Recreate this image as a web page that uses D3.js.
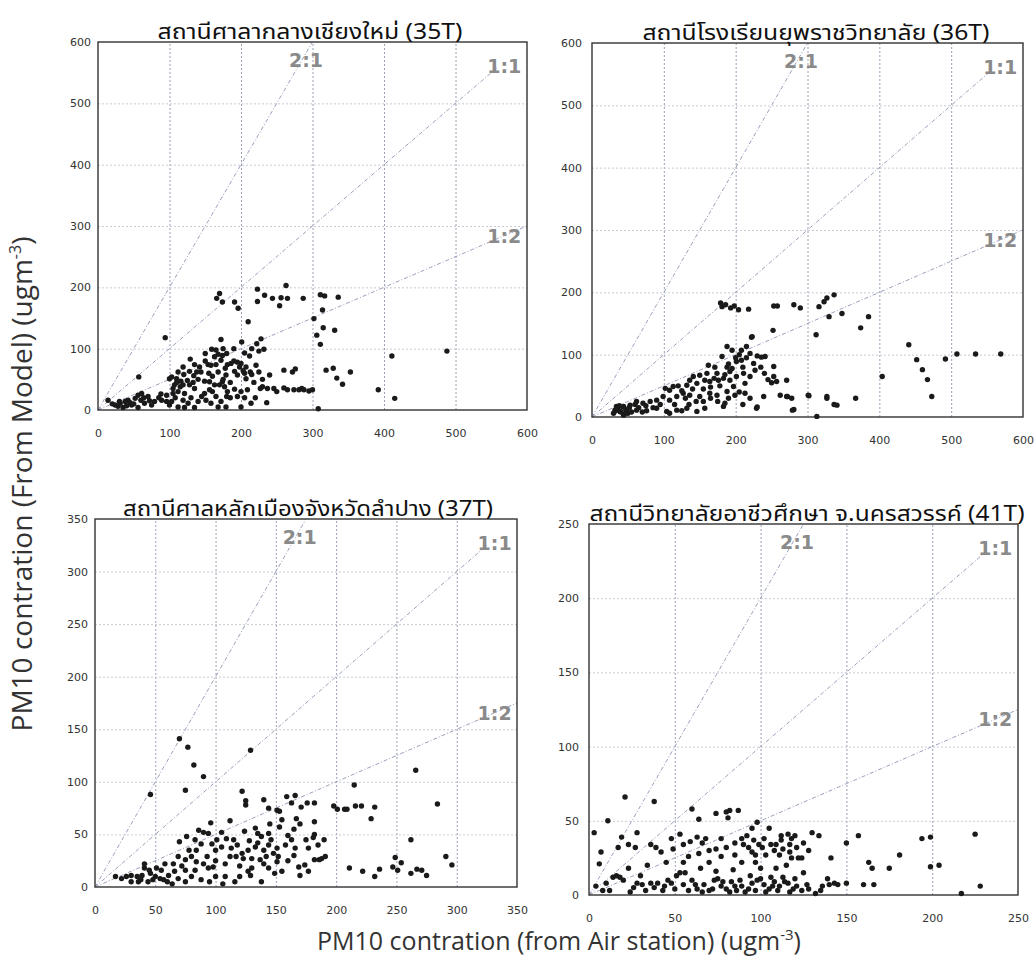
<!DOCTYPE html>
<html><head><meta charset="utf-8">
<script src="https://cdn.jsdelivr.net/npm/d3@7"></script>
<style>body{margin:0;background:#fff}</style>
</head><body>
<svg id="chart" width="1036" height="973"></svg>
<script>
// ---------- DATA ----------
const stationTitles = [
  "สถานีศาลากลางเชียงใหม่ (35T)",
  "สถานีโรงเรียนยุพราชวิทยาลัย (36T)",
  "สถานีศาลหลักเมืองจังหวัดลำปาง (37T)",
  "สถานีวิทยาลัยอาชีวศึกษา จ.นครสวรรค์ (41T)"
];
const axisMax = [600, 600, 350, 250];
const tickStep = [100, 100, 50, 50];
const ratioLabels = ["2:1", "1:1", "1:2"];
const ratioSlopes = [2, 1, 0.5];
const xAxisTitle = "PM10 contration (from Air station) (ugm";
const yAxisTitle = "PM10 contration (From Model) (ugm";

// [air station, model]
const st35T = [
  [14,16],[57,54],[94,118],
  [166,182],[170,190],[174,176],[191,176],[196,166],[223,197],[223,177],[233,187],[244,182],[254,170],[256,183],[263,203],[265,182],[287,182],[311,188],[317,186],[336,184],[314,163],[302,149],[315,134],[331,130],[306,122],[311,107],[210,144],[172,115],[201,111],[228,116],[225,96],[232,99],
  [319,65],[329,68],[353,62],[334,52],[342,42],[411,88],[488,96],[392,33],[415,19],[308,2],
  [159,99],[174,89],[163,87],[168,91],[172,81],[158,73],[165,74],[154,74],[181,74],[178,68],[186,76],[129,83],[135,74],[119,70],[103,54],[100,51],[110,51],[116,47],[119,41],[107,41],[134,56],[144,62],[140,50],[133,45],[128,41],[149,47],[156,46],[163,41],[170,41],[174,46],[179,57],[191,63],[195,78],[200,76],[207,70],[212,88],[213,62],[205,60],[195,57],[207,51],[221,73],[240,57],[260,65],[272,62],[276,67],[227,35],[209,33],[200,30],[191,34],[181,30],[177,38],[237,35],[246,35],[260,36],[274,33],[281,33],[288,33],[295,31],[149,27],[156,33],[135,35],[121,27],[112,30],[105,27],[96,24],[89,16],[96,14],[79,14],[70,22],[61,27],[56,24],[52,19],[42,16],[38,14],[31,11],[24,8],[47,8],[65,11],[103,14],[119,16],[126,11],[140,14],[151,16],[158,11],[168,5],[172,14],[179,5],[200,5],[214,11],[236,12],[112,5],[121,4],[135,4],[56,4],[35,4],
  [20,10],[28,6],[45,12],[60,16],[75,8],[85,20],[100,8],[108,20],[130,20],[145,22],[185,20],[220,20],
  [105,35],[110,45],[115,38],[125,48],[138,62],[142,70],[150,80],[155,60],[160,55],[168,62],[175,50],[185,45],[190,80],[198,70],[203,64],[215,58],[218,45],[225,62],[230,50],[160,30],[165,22],[180,22],[195,22],[205,20],[230,38],[250,30],[265,33],[285,35],[300,33],[120,58],[128,63],[112,62],[150,92],[165,98],[175,100],[180,92],[190,100],[205,93],[215,100],[222,108],[88,26],[72,15],[64,20],[50,10],[40,7],[30,14]
];
const st36T = [
  [179,183],[181,177],[186,180],[193,175],[198,178],[204,172],[218,173],[253,178],[258,178],[281,180],[290,175],[316,177],[323,185],[327,191],[337,196],[330,161],[348,166],[385,161],[374,143],[312,132],[223,129],[441,116],[452,92],[460,76],[467,60],[473,33],[492,93],[508,101],[534,101],[569,101],[404,65],[367,30],[337,20],[327,30],[302,34],[313,1],[281,12],[272,33],[230,16],
  [222,128],[252,139],[188,113],[195,107],[208,107],[215,113],[181,97],[201,89],[208,91],[225,86],[236,96],[241,97],[162,83],[171,80],[188,80],[192,73],[174,70],[160,70],[150,67],[141,65],[136,59],[132,51],[120,50],[113,49],[108,43],[102,46],[146,54],[157,59],[164,57],[176,59],[183,62],[192,59],[201,65],[211,70],[220,65],[227,75],[213,54],[197,49],[188,41],[174,35],[164,38],[150,33],[136,35],[127,38],[118,33],[108,27],[99,33],[90,27],[81,25],[71,22],[62,25],[53,19],[44,17],[34,17],[32,11],[39,9],[48,9],[62,11],[76,10],[90,14],[104,9],[118,11],[132,14],[146,9],[157,14],[183,17],[185,22],[213,38],[220,30],[239,33],[253,81],[253,65],[257,57],[271,59],[262,35],[271,33],[278,30],[229,14],[279,11],[301,35],[327,33],[341,19],[199,35],[108,6],[44,3],
  [33,10],[36,14],[40,8],[43,16],[47,12],[50,6],[38,18],[45,5],[52,15],[30,6],
  [155,45],[165,48],[170,62],[178,50],[185,68],[190,85],[195,78],[200,95],[205,100],[210,80],[215,95],[220,102],[230,98],[235,80],[240,70],[245,60],[250,55],[125,42],[130,30],[140,45],[145,25],[155,25],[165,30],[175,25],[190,30],[205,40],[210,20],[95,20],[85,15],[75,18],[65,15],[60,20],[70,8],[55,8],[115,20],[125,10],[135,20]
];
const st37T = [
  [46,88],[70,141],[77,133],[82,116],[90,105],[75,92],[129,130],[122,91],[125,82],[125,78],[215,97],[266,111],[284,79],[262,45],[291,29],[296,21],
  [198,77],[201,74],[207,74],[209,74],[216,77],[221,77],[232,76],[229,65],[249,28],[254,23],[247,19],[251,16],[262,13],[267,17],[271,16],[275,11],[211,18],[222,15],[232,10],[236,17],
  [140,83],[144,75],[151,73],[153,72],[159,86],[166,87],[163,80],[171,76],[176,80],[182,80],[167,65],[182,62],[182,50],[181,47],[112,63],[96,61],[86,54],[90,52],[94,51],[76,48],[70,43],[83,45],[88,41],[97,41],[101,45],[109,46],[115,45],[124,53],[133,56],[135,51],[138,48],[144,51],[146,45],[153,57],[160,49],[163,45],[166,37],[177,37],[188,27],[182,26],[169,19],[174,21],[177,15],[170,11],[144,40],[140,35],[133,38],[127,35],[122,32],[117,29],[123,27],[130,27],[137,26],[142,29],[148,32],[152,29],[151,37],[113,37],[112,29],[105,38],[100,35],[93,29],[84,35],[80,29],[75,26],[69,29],[84,24],[94,18],[98,19],[83,16],[75,16],[66,15],[65,22],[61,11],[55,16],[54,8],[51,18],[41,22],[41,18],[46,13],[39,11],[35,10],[30,11],[26,10],[17,10],[48,7],[57,7],[69,8],[88,7],[95,5],[108,10],[106,3],[116,5],[127,15],[129,11],[138,5],[144,18],[149,13],[151,24],[36,5],[44,5],[64,3],[191,29],[186,26],
  [105,52],[118,40],[128,44],[135,42],[145,60],[155,64],[158,40],[165,55],[170,60],[175,45],[185,40],[190,45],[108,22],[120,20],[130,18],[140,22],[155,15],[160,25],[165,30],[100,25],[90,22],[78,35],[72,20],[58,22],[50,10],[45,16],[38,7],[30,5],[22,8],[60,5],[75,5],[80,10],[120,10],[100,10]
];
const st41T = [
  [21,66],[80,56],
  [3,42],[7,29],[6,21],[11,50],[19,39],[17,32],[23,34],[27,32],[28,42],[23,18],[36,34],[39,32],[42,29],[38,63],[48,38],[49,31],[53,41],[55,34],[59,36],[60,58],[63,39],[64,51],[64,28],[68,38],[70,30],[74,55],[74,31],[77,38],[81,52],[82,57],[87,57],[89,38],[90,34],[95,45],[95,29],[97,27],[98,49],[99,34],[93,32],[85,27],[89,22],[97,22],[101,32],[105,45],[106,34],[109,34],[109,18],[112,37],[113,31],[111,27],[116,41],[117,34],[117,29],[118,25],[120,40],[121,32],[122,25],[124,25],[130,42],[134,40],[141,25],[150,35],[157,40],[163,22],[165,18],[175,18],[181,27],[194,38],[199,39],[199,19],[204,20],[225,41],[228,6],[217,1],
  [4,6],[8,3],[12,3],[14,12],[16,13],[18,12],[20,10],[24,2],[28,8],[31,7],[36,8],[40,8],[43,3],[46,10],[48,8],[51,13],[53,15],[56,15],[55,7],[60,10],[63,4],[67,7],[70,3],[73,10],[74,16],[75,11],[78,9],[80,4],[83,9],[86,3],[89,6],[91,2],[94,13],[95,8],[98,10],[100,11],[102,7],[105,4],[106,12],[108,9],[111,6],[114,9],[116,8],[117,2],[120,11],[121,6],[127,7],[132,1],[136,6],[139,11],[140,7],[143,8],[145,7],[150,8],[160,7],[166,7],
  [10,8],[26,5],[33,3],[38,5],[44,6],[50,4],[58,3],[62,7],[66,2],[72,4],[77,6],[82,2],[85,6],[88,10],[93,4],[97,3],[103,2],[107,6],[110,3],[113,12],[119,4],[124,3],[128,4],[135,3],[30,13],[34,20],[55,22],[65,18],[70,22],[84,17],[100,18],[115,20],[125,15],[58,26],[45,22],[77,26],[103,27],[108,30],[112,40],[85,35],[80,32],[66,35],[92,40],[96,37],[102,38],[118,38],[125,35],[128,30]
];
const stationData = [st35T, st36T, st37T, st41T];

// ---------- LAYOUT ----------
const plotBoxes = [ // left, right, top, bottom (px)
  [98, 527, 42, 410],
  [592, 1023, 43, 417],
  [95, 517, 519, 887],
  [589, 1018, 524, 895]
];
const titleCenters = [310, 816, 308, 807];
const titleWidths = [305, 347, 370, 435];
const labelPos = [[0.485, 0.068], [0.947, 0.084], [0.947, 0.545]];
const lineEnd = [1, 0.93, 1];

const svg = d3.select("#chart");
const thaiFont = "Tahoma, 'Noto Sans Thai', 'Noto Sans Thai UI', Garuda, Loma, 'Noto Sans', sans-serif";
const tickFont = "'DejaVu Sans', Verdana, sans-serif";

stationData.forEach((pts, i) => {
  const [L, R, T, B] = plotBoxes[i];
  const max = axisMax[i], step = tickStep[i];
  const x = d3.scaleLinear().domain([0, max]).range([L, R]);
  const y = d3.scaleLinear().domain([0, max]).range([B, T]);
  const ticks = d3.range(0, max + step / 2, step);
  const inner = ticks.filter(t => t > 0 && t < max);
  const g = svg.append("g");

  // gridlines
  g.append("g").attr("transform", `translate(0,${B})`)
    .call(d3.axisBottom(x).tickValues(inner).tickSize(-(B - T)).tickFormat(""))
    .call(s => s.select(".domain").remove())
    .selectAll("line").attr("stroke", "#9a9fb4").attr("stroke-dasharray", "2,2").attr("stroke-width", 1);
  g.append("g").attr("transform", `translate(${L},0)`)
    .call(d3.axisLeft(y).tickValues(inner).tickSize(-(R - L)).tickFormat(""))
    .call(s => s.select(".domain").remove())
    .selectAll("line").attr("stroke", "#c8cbd6").attr("stroke-dasharray", "2,2").attr("stroke-width", 1);

  // reference lines
  ratioSlopes.forEach((k, j) => {
    let x1 = Math.min(max, max / k) * lineEnd[j];
    g.append("line")
      .attr("x1", x(0)).attr("y1", y(0))
      .attr("x2", x(x1)).attr("y2", y(x1 * k))
      .attr("stroke", "#9aa0bb").attr("stroke-width", 1).attr("stroke-dasharray", "4,2,1,2");
  });

  // border
  g.append("rect").attr("x", L).attr("y", T).attr("width", R - L).attr("height", B - T)
    .attr("fill", "none").attr("stroke", "#333").attr("stroke-width", 1.4);

  // ratio labels
  ratioLabels.forEach((lab, j) => {
    g.append("text")
      .attr("x", x(max * labelPos[j][0])).attr("y", y(max * (1 - labelPos[j][1])))
      .attr("text-anchor", "middle")
      .attr("font-family", tickFont).attr("font-weight", "bold").attr("font-size", 19)
      .attr("fill", "#8a8a8a").text(lab);
  });

  // points
  g.append("g").selectAll("circle").data(pts).join("circle")
    .attr("cx", d => x(d[0])).attr("cy", d => y(d[1])).attr("r", 2.7)
    .attr("fill", "#1a1a1a");

  // tick labels
  g.append("g").attr("transform", `translate(0,${B})`)
    .call(d3.axisBottom(x).tickValues(ticks).tickSize(0).tickPadding(19).tickFormat(d3.format("d")))
    .call(s => s.select(".domain").remove())
    .selectAll("text").attr("font-family", tickFont).attr("font-size", 11).attr("fill", "#333");
  g.append("g").attr("transform", `translate(${L},0)`)
    .call(d3.axisLeft(y).tickValues(ticks).tickSize(0).tickPadding(i % 2 ? 10 : 7).tickFormat(d3.format("d")))
    .call(s => s.select(".domain").remove())
    .selectAll("text").attr("font-family", tickFont).attr("font-size", 11).attr("fill", "#333");

  // title
  g.append("text").attr("x", titleCenters[i]).attr("y", T - 3)
    .attr("text-anchor", "middle").attr("font-family", thaiFont).attr("font-size", 21)
    .attr("textLength", titleWidths[i]).attr("lengthAdjust", "spacingAndGlyphs")
    .attr("fill", "#111").text(stationTitles[i]);
});

// axis titles
const xt = svg.append("text").attr("x", 559).attr("y", 950).attr("text-anchor", "middle")
  .attr("font-family", "'Open Sans', 'Noto Sans', sans-serif").attr("font-size", 25).attr("fill", "#333");
xt.append("tspan").text(xAxisTitle);
xt.append("tspan").attr("baseline-shift", "super").attr("font-size", 15).text("-3");
xt.append("tspan").text(")");

const yt = svg.append("text").attr("transform", "translate(32,484) rotate(-90)").attr("text-anchor", "middle")
  .attr("font-family", "'Open Sans', 'Noto Sans', sans-serif").attr("font-size", 28).attr("fill", "#333");
yt.append("tspan").text(yAxisTitle);
yt.append("tspan").attr("baseline-shift", "super").attr("font-size", 16).text("-3");
yt.append("tspan").text(")");
</script>
</body></html>
